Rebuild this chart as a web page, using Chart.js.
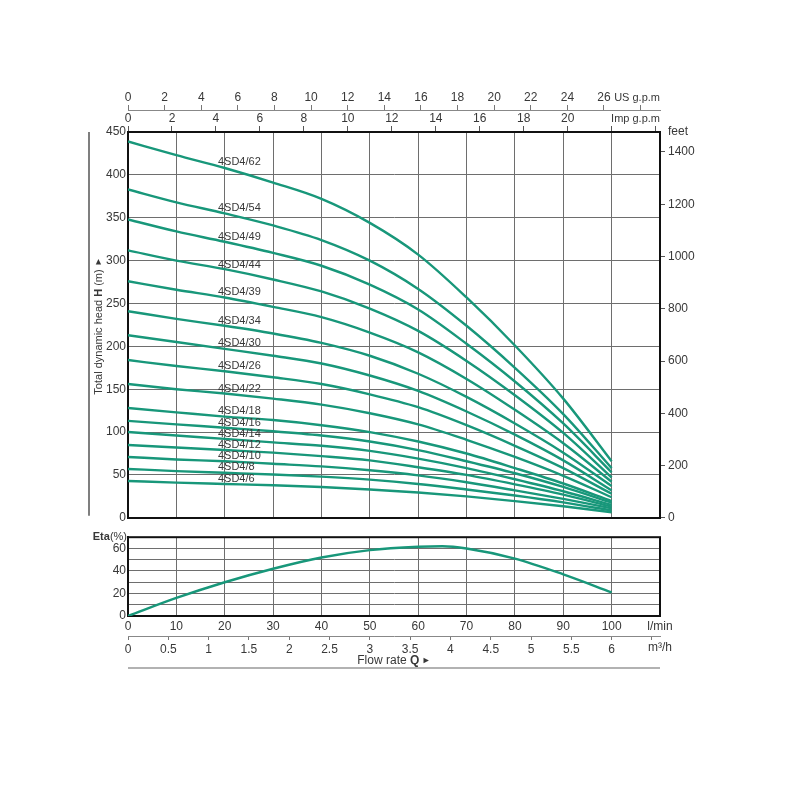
<!DOCTYPE html>
<html><head><meta charset="utf-8">
<script src="https://cdn.jsdelivr.net/npm/chart.js@4/dist/chart.umd.min.js"></script>
<style>
html,body{margin:0;padding:0;background:#fff;}
#wrap{position:relative;width:800px;height:800px;background:#fff;}
#c1{position:absolute;left:0;top:0;}
#c2{position:absolute;left:0;top:528px;}
</style></head><body>
<div id="wrap"><canvas id="c1" width="800" height="528" style="width:800px;height:528px"></canvas><canvas id="c2" width="800" height="272" style="width:800px;height:272px"></canvas></div>
<script>
// ---- data ----
const flowLmin = [0,10,20,30,40,50,60,70,80,90,100];
const pumpModels = ['4SD4/62','4SD4/54','4SD4/49','4SD4/44','4SD4/39','4SD4/34','4SD4/30','4SD4/26','4SD4/22','4SD4/18','4SD4/16','4SD4/14','4SD4/12','4SD4/10','4SD4/8','4SD4/6'];
const head62 = [439,423,408,391,372,344,307,257,201,139,66];
const head54 = [383,368,355,341,324,300,267,224,175,121,58];
const head49 = [348,334,322,309,294,272,243,203,159,110,53];
const head44 = [312,300,290,278,264,244,218,183,143,99,47];
const head39 = [276,266,257,246,234,216,193,162,126,87,42];
const head34 = [241,232,224,215,204,189,168,141,110,76,37];
const head30 = [213,205,197,189,180,166,148,124,97,67,32];
const head26 = [184,177,171,164,156,144,129,108,84,58,28];
const head22 = [156,150,145,139,132,122,109,91,71,49,24];
const head18 = [128,123,118,114,108,100,89,75,58,40,19.5];
const head16 = [113,109,105,101,96,89,79,66,52,36,17.5];
const head14 = [100,96,92,88,84,78,69,58,45,31,15];
const head12 = [85,82,79,76,72,67,59,50,39,27,13];
const head10 = [71,68,66,63,60,55.5,49.5,41.5,32,22,11];
const head8  = [57,54.5,52.5,50.5,48,44.5,39.5,33,26,18,8.5];
const head6  = [43,41,39.5,38,36,33,29.5,25,19.5,13.5,6.5];
const curveLabelQ = 18.6;
const curveLabelHeads = [415,361.6,328,294.7,263.7,230,204,177,150.8,124.5,110.2,97.4,85,72,58.8,45.2];
const etaFlow = [0,10,20,30,40,50,60,65,70,80,90,100];
const etaPct  = [0,16,30,42,52,58.5,61.5,62,60,51,37,21];
// axis ranges (units)
const headMaxM = 450, flowMaxLmin = 110, etaMax = 70;
const M_TO_FT = 3.28084, USGPM_L = 3.78541, IMPGPM_L = 4.54609, M3H_L = 16.6667;

const headSeries = [head62,head54,head49,head44,head39,head34,head30,head26,head22,head18,head16,head14,head12,head10,head8,head6];

const FONT = '"Liberation Sans", Arial, Helvetica, sans-serif';
Chart.defaults.font.family = FONT;
Chart.defaults.font.size = 12;
Chart.defaults.color = '#383838';
const GRID = '#6e6e6e';
const LINE = '#18977a';
const TXT = '#383838';

function drawMixed(ctx, parts, cx, cy, size) {
  const ws = parts.map(p => { ctx.font = (p[1] ? 'bold ' : '') + (p[2] || size) + 'px ' + FONT; return ctx.measureText(p[0]).width; });
  const total = ws.reduce((a,b)=>a+b,0);
  let x = cx - total/2;
  parts.forEach((p,i) => { ctx.font = (p[1] ? 'bold ' : '') + (p[2] || size) + 'px ' + FONT; ctx.fillText(p[0], x, cy); x += ws[i]; });
}

const mainDeco = {
  id: 'mainDeco',
  afterDraw(chart) {
    const {ctx, chartArea: a, scales} = chart;
    ctx.save();
    ctx.fillStyle = TXT;
    ctx.textBaseline = 'middle';
    ctx.textAlign = 'left';
    ctx.font = '11px ' + FONT;
    const lx = scales.x.getPixelForValue(curveLabelQ);
    pumpModels.forEach((m,i) => ctx.fillText(m, lx, scales.y.getPixelForValue(curveLabelHeads[i])));
    ctx.font = '11px ' + FONT;
    ctx.textAlign = 'right';
    ctx.fillText('US g.p.m', a.right, scales.xus.bottom - 12);
    ctx.fillText('Imp g.p.m', a.right, a.top - 13);
    ctx.textAlign = 'left';
    ctx.font = '12px ' + FONT;
    ctx.fillText('feet', a.right + 8, a.top);
    // left decorative line
    ctx.strokeStyle = '#555';
    ctx.lineWidth = 1.5;
    ctx.beginPath(); ctx.moveTo(89, a.top); ctx.lineTo(89, a.bottom - 2); ctx.stroke();
    // left title
    ctx.translate(99, 326);
    ctx.rotate(-Math.PI/2);
    ctx.textAlign = 'left';
    drawMixed(ctx, [['Total dynamic head ',false],['H',true],[' (m) ',false],['\u25BA',false,9]], 0, 0, 11);
    ctx.restore();
  }
};

const etaDeco = {
  id: 'etaDeco',
  beforeDatasetsDraw(chart) {
    const {ctx, chartArea: a} = chart;
    ctx.save();
    ctx.strokeStyle = '#111';
    ctx.lineWidth = 2;
    ctx.strokeRect(a.left, a.top, a.right - a.left, a.bottom - a.top);
    ctx.restore();
  },
  afterDraw(chart) {
    const {ctx, chartArea: a, scales} = chart;
    ctx.save();
    ctx.fillStyle = TXT;
    ctx.textBaseline = 'middle';
    ctx.textAlign = 'left';
    ctx.font = 'bold 11px ' + FONT;
    const w1 = ctx.measureText('Eta').width;
    ctx.font = '11px ' + FONT;
    const w2 = ctx.measureText('(%)').width;
    const sx = a.left - 1 - w1 - w2;
    ctx.font = 'bold 11px ' + FONT; ctx.fillText('Eta', sx, a.top);
    ctx.font = '11px ' + FONT; ctx.fillText('(%)', sx + w1, a.top);
    ctx.font = '12px ' + FONT;
    ctx.textAlign = 'center';
    ctx.fillText('m\u00B3/h', a.right, scales.xm3.top + 12);
    ctx.textAlign = 'left';
    drawMixed(ctx, [['Flow rate ',false],['Q',true],[' \u25BA',false,9]], 394, scales.xm3.top + 25, 12);
    ctx.strokeStyle = '#999';
    ctx.lineWidth = 1.5;
    ctx.beginPath(); ctx.moveTo(a.left, scales.xm3.top + 32); ctx.lineTo(a.right, scales.xm3.top + 32); ctx.stroke();
    ctx.restore();
  }
};

new Chart(document.getElementById('c1'), {
  type: 'line',
  data: {
    datasets: headSeries.map((h, i) => ({
      label: pumpModels[i],
      data: flowLmin.map((q, j) => ({x: q, y: h[j]})),
      borderColor: LINE, borderWidth: 2.4, pointRadius: 0,
      cubicInterpolationMode: 'monotone', fill: false,
      xAxisID: 'x', yAxisID: 'y'
    }))
  },
  options: {
    responsive: false, animation: false, events: [],
    layout: {padding: 0},
    plugins: {legend: {display: false}, tooltip: {enabled: false}},
    scales: {
      x: {type: 'linear', position: 'bottom', min: 0, max: flowMaxLmin,
          ticks: {display: false, stepSize: 10},
          grid: {color: GRID, lineWidth: 1, drawTicks: false},
          border: {color: '#111', width: 2},
          afterFit: s => { s.height = 8; }},
      y: {type: 'linear', position: 'left', min: 0, max: headMaxM,
          ticks: {stepSize: 50, padding: 2, color: TXT},
          grid: {color: GRID, lineWidth: 1, drawTicks: false},
          border: {color: '#111', width: 2},
          afterFit: s => { s.width = 128; }},
      y2: {type: 'linear', position: 'right', min: 0, max: headMaxM * M_TO_FT,
          ticks: {stepSize: 200, padding: 3, includeBounds: false, color: TXT, callback: v => String(v)},
          grid: {drawOnChartArea: false, drawTicks: true, tickLength: 5, color: '#555'},
          border: {color: '#111', width: 2},
          afterFit: s => { s.width = 140; }},
      ximp: {type: 'linear', position: 'top', weight: 1, min: 0, max: flowMaxLmin / IMPGPM_L,
          ticks: {stepSize: 2, padding: 0, includeBounds: false, maxRotation: 0, autoSkip: false, color: TXT,
                  callback: v => v <= 20 ? String(v) : ''},
          grid: {drawOnChartArea: false, drawTicks: true, tickLength: 6, color: '#555'},
          border: {color: '#111', width: 2},
          afterFit: s => { s.height = 22; }},
      xus: {type: 'linear', position: 'top', weight: 2, min: 0, max: flowMaxLmin / USGPM_L,
          ticks: {stepSize: 2, padding: 0, includeBounds: false, maxRotation: 0, autoSkip: false, color: TXT,
                  callback: v => v <= 26 ? String(v) : ''},
          grid: {drawOnChartArea: false, drawTicks: true, tickLength: 5, color: '#777'},
          border: {color: '#888', width: 1},
          afterFit: s => { s.height = 110; }}
    }
  },
  plugins: [mainDeco]
});

new Chart(document.getElementById('c2'), {
  type: 'line',
  data: {
    datasets: [{
      label: 'Eta',
      data: etaFlow.map((q, j) => ({x: q, y: etaPct[j]})),
      borderColor: LINE, borderWidth: 2.4, pointRadius: 0,
      cubicInterpolationMode: 'monotone', fill: false,
      xAxisID: 'x', yAxisID: 'y'
    }]
  },
  options: {
    responsive: false, animation: false, events: [],
    layout: {padding: {top: 7, right: 140, bottom: 140, left: 0}},
    plugins: {legend: {display: false}, tooltip: {enabled: false}},
    scales: {
      x: {type: 'linear', position: 'bottom', weight: 1, min: 0, max: flowMaxLmin,
          ticks: {stepSize: 10, padding: 3, maxRotation: 0, autoSkip: false, color: TXT,
                  callback: v => v === 110 ? 'l/min' : String(v)},
          grid: {color: GRID, lineWidth: 1, drawTicks: false},
          border: {color: '#111', width: 2},
          afterFit: s => { s.height = 20; }},
      xm3: {type: 'linear', position: 'bottom', weight: 2, min: 0, max: flowMaxLmin / M3H_L,
          ticks: {stepSize: 0.5, padding: 2, includeBounds: false, maxRotation: 0, autoSkip: false, color: TXT,
                  callback: v => v <= 6 ? String(v) : ''},
          grid: {drawOnChartArea: false, drawTicks: true, tickLength: 4, color: '#777'},
          border: {color: '#888', width: 1},
          afterFit: s => { s.height = 24; }},
      y: {type: 'linear', position: 'left', min: 0, max: etaMax,
          ticks: {stepSize: 10, padding: 2, color: TXT, autoSkip: false,
                  callback: v => v % 20 === 0 ? String(v) : ''},
          grid: {color: GRID, lineWidth: 1, drawTicks: false},
          border: {color: '#111', width: 2},
          afterFit: s => { s.width = 128; }}
    }
  },
  plugins: [etaDeco]
});
</script>
</body></html>
